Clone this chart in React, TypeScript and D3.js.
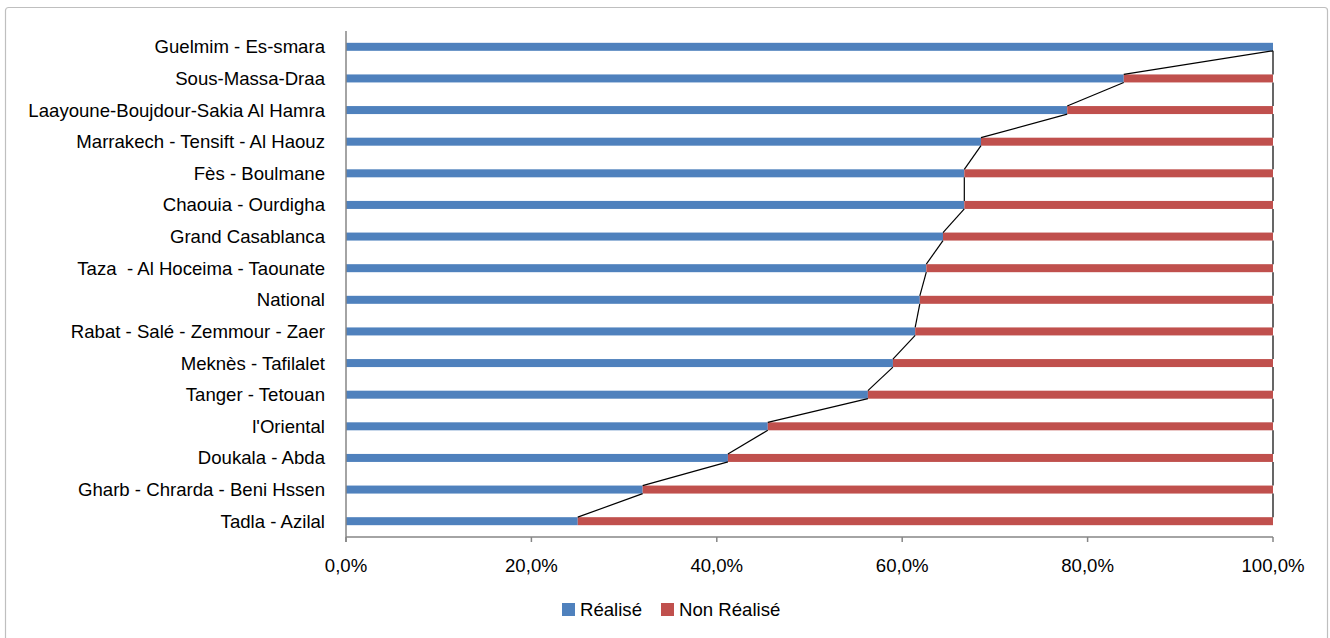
import React from "react";
import * as d3 from "d3";

const categories = [
  "Guelmim - Es-smara",
  "Sous-Massa-Draa",
  "Laayoune-Boujdour-Sakia Al Hamra",
  "Marrakech - Tensift - Al Haouz",
  "Fès - Boulmane",
  "Chaouia - Ourdigha",
  "Grand Casablanca",
  "Taza  - Al Hoceima - Taounate",
  "National",
  "Rabat - Salé - Zemmour - Zaer",
  "Meknès - Tafilalet",
  "Tanger - Tetouan",
  "l'Oriental",
  "Doukala - Abda",
  "Gharb - Chrarda - Beni Hssen",
  "Tadla - Azilal",
];
const realise = [1.0, 0.839, 0.778, 0.685, 0.667, 0.667, 0.644, 0.626, 0.619, 0.614, 0.59, 0.563, 0.455, 0.412, 0.32, 0.25];
const nonRealise = realise.map((v) => 1 - v);
const xTicks = [0, 0.2, 0.4, 0.6, 0.8, 1.0];
const seriesNames = ["Réalisé", "Non Réalisé"];
const colors = ["#4F81BD", "#C0504D"];

const W = 1330;
const H = 638;
const plot = { left: 346, right: 1273, top: 31, bottom: 537 };
const FONT = "'Liberation Sans', Arial, sans-serif";
const FS = 18.6;

export default function App() {
  const x = d3.scaleLinear().domain([0, 1]).range([plot.left, plot.right]);
  const y = d3
    .scaleBand<string>()
    .domain(categories)
    .range([plot.top, plot.bottom])
    .paddingInner(0.747)
    .paddingOuter(0.747 / 2);
  const bw = y.bandwidth();
  const fmt = (v: number) => (v * 100).toFixed(1).replace(".", ",") + "%";

  const stacks = categories.map((c, i) => [
    { x0: 0, x1: realise[i] },
    { x0: realise[i], x1: realise[i] + nonRealise[i] },
  ]);

  const seriesLines: { x1: number; y1: number; x2: number; y2: number }[] = [];
  for (let i = 0; i < categories.length - 1; i++) {
    for (let s = 0; s < 2; s++) {
      seriesLines.push({
        x1: x(stacks[i][s].x1),
        y1: (y(categories[i]) as number) + bw,
        x2: x(stacks[i + 1][s].x1),
        y2: y(categories[i + 1]) as number,
      });
    }
  }

  const legendX = [562, 661];

  return (
    <svg width={W} height={H} style={{ position: "absolute", left: 0, top: 0 }}>
      <rect x={0} y={0} width={W} height={H} fill="#fff" />
      <rect x={5.5} y={7.5} width={1322} height={640} fill="#fff" stroke="#BFBFBF" strokeWidth={1.2} rx={3} />
      {categories.map((c, i) =>
        stacks[i].map((s, k) => (
          <rect
            key={c + k}
            x={x(s.x0)}
            y={y(c)}
            width={Math.max(0, x(s.x1) - x(s.x0))}
            height={bw}
            fill={colors[k]}
          />
        ))
      )}
      {seriesLines.map((l, i) => (
        <line key={i} x1={l.x1} y1={l.y1} x2={l.x2} y2={l.y2} stroke="#000" strokeWidth={1.2} />
      ))}
      <line x1={plot.left} y1={plot.top} x2={plot.left} y2={plot.bottom + 5} stroke="#868686" strokeWidth={1.5} />
      <line x1={plot.left} y1={plot.bottom} x2={plot.right} y2={plot.bottom} stroke="#868686" strokeWidth={1.5} />
      {xTicks.map((t) => (
        <g key={t}>
          <line x1={x(t)} y1={plot.bottom} x2={x(t)} y2={plot.bottom + 5} stroke="#868686" strokeWidth={1.5} />
          <text x={x(t)} y={565} textAnchor="middle" dominantBaseline="central" fontFamily={FONT} fontSize={FS} fill="#000">
            {fmt(t)}
          </text>
        </g>
      ))}
      {categories.map((c) => (
        <text
          key={c}
          x={325}
          y={(y(c) as number) + bw / 2}
          textAnchor="end"
          dominantBaseline="central"
          fontFamily={FONT}
          fontSize={FS}
          fill="#000"
          style={{ whiteSpace: "pre" }}
        >
          {c}
        </text>
      ))}
      {seriesNames.map((n, i) => {
        const lx = legendX[i];
        return (
          <g key={n}>
            <rect x={lx} y={603} width={13} height={13} fill={colors[i]} />
            <text x={lx + 18} y={609.5} dominantBaseline="central" fontFamily={FONT} fontSize={FS} fill="#000">
              {n}
            </text>
          </g>
        );
      })}
    </svg>
  );
}
